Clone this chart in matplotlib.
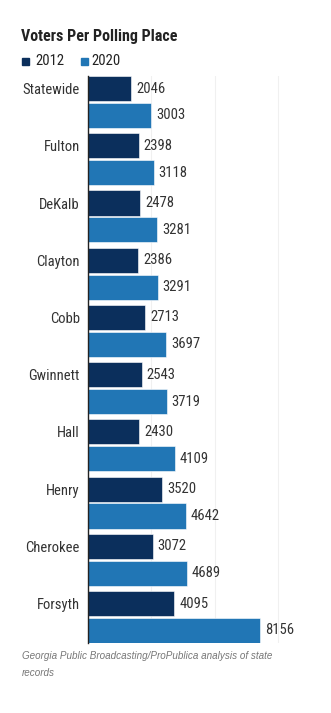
import matplotlib.pyplot as plt
import numpy as np

places = ['Statewide', 'Fulton', 'DeKalb', 'Clayton', 'Cobb',
          'Gwinnett', 'Hall', 'Henry', 'Cherokee', 'Forsyth']
voters_2012 = [2046, 2398, 2478, 2386, 2713, 2543, 2430, 3520, 3072, 4095]
voters_2020 = [3003, 3118, 3281, 3291, 3697, 3719, 4109, 4642, 4689, 8156]
grid_ticks = [3000, 6000, 9000]

dark = '#0b2f5c'
light = '#2176b5'
txt = '#333333'
narrow = ['Roboto Condensed', 'DejaVu Sans']

fig = plt.figure(figsize=(3.31, 7.13), dpi=100)
W, H = 331, 713
ax = fig.add_axes([88 / W, 1 - 643 / H, 207 / W, (643 - 76) / H])

y = np.arange(len(places))
off, h = 0.235, 0.44
ax.barh(y - off, voters_2012, height=h, color=dark, edgecolor='white', linewidth=0.4, zorder=3)
ax.barh(y + off, voters_2020, height=h, color=light, edgecolor='white', linewidth=0.4, zorder=3)

for yi, v in zip(y - off, voters_2012):
    ax.text(v + 230, yi, str(v), va='center', ha='left', fontsize=10.5, color=txt, family=narrow)
for yi, v in zip(y + off, voters_2020):
    ax.text(v + 230, yi, str(v), va='center', ha='left', fontsize=10.5, color=txt, family=narrow)

ax.set_xlim(0, 9800)
ax.set_ylim(len(places) - 1 + off + h / 2, -off - h / 2)
ax.set_xticks(grid_ticks)
ax.set_xticklabels([])
ax.tick_params(axis='x', length=0)
ax.grid(axis='x', color='#f0f0f0', linewidth=0.8, zorder=0)
ax.set_yticks(y - off)
ax.set_yticklabels(places, fontsize=10.5, color=txt, family=narrow)
ax.tick_params(axis='y', length=0, pad=6)
for s in ['top', 'right', 'bottom']:
    ax.spines[s].set_visible(False)
ax.spines['left'].set_color('#222222')
ax.spines['left'].set_linewidth(1)
ax.spines['left'].set_zorder(4)

# title, legend, source
fig.text(21 / W, 1 - 36 / H, 'Voters Per Polling Place', fontsize=11.5, fontweight='bold',
         color='#222222', va='center', ha='left', family=narrow)
fig.patches.append(plt.Rectangle((22 / W, 1 - 65 / H), 7 / W, 7 / H, color=dark,
                                 transform=fig.transFigure, figure=fig))
fig.text(35 / W, 1 - 61 / H, '2012', fontsize=10.5, color='#222222', va='center', ha='left', family=narrow)
fig.patches.append(plt.Rectangle((81 / W, 1 - 65 / H), 7 / W, 7 / H, color=light,
                                 transform=fig.transFigure, figure=fig))
fig.text(91 / W, 1 - 61 / H, '2020', fontsize=10.5, color='#222222', va='center', ha='left', family=narrow)

src = ['Liberation Sans', 'DejaVu Sans']
fig.text(22 / W, 1 - 656 / H, 'Georgia Public Broadcasting/ProPublica analysis of state',
         fontsize=7.1, style='italic', color='#777777', va='center', ha='left', family=src)
fig.text(22 / W, 1 - 673 / H, 'records', fontsize=7.1, style='italic', color='#777777',
         va='center', ha='left', family=src)

fig.savefig('out.png', dpi=100, facecolor='white')
